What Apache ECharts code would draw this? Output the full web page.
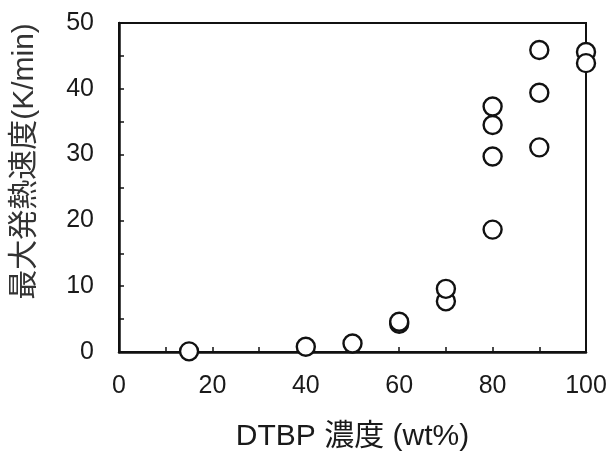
<!DOCTYPE html>
<html>
<head>
<meta charset="utf-8">
<script src="https://cdn.jsdelivr.net/npm/echarts@6/dist/echarts.min.js"></script>
<style>
html,body{margin:0;padding:0;background:#fff;}
#chart{width:611px;height:457px;}
</style>
</head>
<body>
<div id="chart"></div>
<script>
// DTBP concentration (wt%) and corresponding max heat-generation rate (K/min)
const concentration = [15, 40, 50, 60, 60, 70, 70, 80, 80, 80, 80, 90, 90, 90, 100, 100];
const maxRate       = [0.1, 0.8, 1.3, 4.3, 4.6, 7.7, 9.6, 18.6, 29.7, 34.5, 37.3, 31.1, 39.4, 45.9, 45.6, 43.9];
const xAxisTitle = 'DTBP 濃度 (wt%)';
const yAxisTitle = '最大発熱速度(K/min)';

const points = concentration.map((c, i) => [c, maxRate[i]]);
const fontFam = '"Liberation Sans", Arial, "Noto Sans CJK JP", sans-serif';

const chart = echarts.init(document.getElementById('chart'), null, {renderer: 'canvas'});
chart.setOption({
  animation: false,
  backgroundColor: '#fff',
  grid: {left: 119, right: 25, top: 23, bottom: 104, show: true, borderColor: '#111', borderWidth: 2, backgroundColor: 'transparent'},
  xAxis: {
    type: 'value', min: 0, max: 100, interval: 20,
    name: xAxisTitle, nameLocation: 'middle', nameGap: 70,
    nameTextStyle: {fontFamily: fontFam, fontSize: 30, color: '#1a1a1a'},
    axisLine: {show: true, lineStyle: {color: '#111', width: 2.5}},
    axisTick: {show: true, inside: true, length: 5, lineStyle: {color: '#111', width: 1.5}},
    minorTick: {show: true, splitNumber: 2, length: 5, lineStyle: {color: '#111', width: 1.5}},
    splitLine: {show: false},
    axisLabel: {fontFamily: fontFam, fontSize: 25, color: '#1a1a1a', margin: 22}
  },
  yAxis: {
    type: 'value', min: 0, max: 50, interval: 10,
    name: yAxisTitle, nameLocation: 'middle', nameGap: 79, nameRotate: 90,
    nameTextStyle: {fontFamily: fontFam, fontSize: 30, color: '#333', padding: [0, 0, 0, 52]},
    axisLine: {show: true, lineStyle: {color: '#111', width: 2.5}},
    axisTick: {show: true, inside: true, length: 5, lineStyle: {color: '#111', width: 1.5}},
    minorTick: {show: true, splitNumber: 2, length: 5, lineStyle: {color: '#111', width: 1.5}},
    splitLine: {show: false},
    axisLabel: {fontFamily: fontFam, fontSize: 25, color: '#1a1a1a', margin: 25}
  },
  series: [{
    type: 'scatter',
    data: points,
    symbol: 'circle',
    symbolSize: 18,
    itemStyle: {color: '#fff', borderColor: '#111', borderWidth: 2.4, opacity: 1},
    z: 5,
    clip: false
  }]
});
</script>
</body>
</html>
